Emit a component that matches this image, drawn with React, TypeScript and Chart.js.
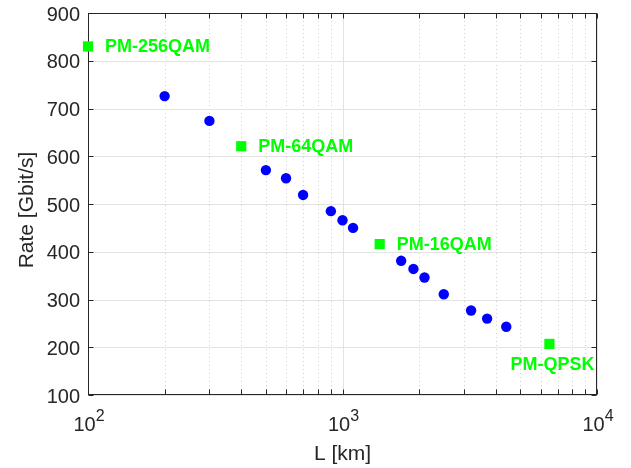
import React, { useEffect, useRef } from "react";
import { Chart, registerables } from "chart.js";

Chart.register(...registerables);

const blueL = [200, 300, 500, 600, 700, 900, 1000, 1100, 1700, 1900, 2100, 2500, 3200, 3700, 4400];
const blueRate = [726, 674, 571, 554, 519, 485, 466, 450, 381, 364, 346, 311, 277, 260, 243];
const greenL = [100, 400, 1400, 6500];
const greenRate = [830, 621, 416, 207];
const greenLabels = ["PM-256QAM", "PM-64QAM", "PM-16QAM", "PM-QPSK"];
const yTicks = [100, 200, 300, 400, 500, 600, 700, 800, 900];
const xMajor = [100, 1000, 10000];
const xMajorBase = ["10", "10", "10"];
const xMajorExp = ["2", "3", "4"];
const xMinor = [200, 300, 400, 500, 600, 700, 800, 900, 2000, 3000, 4000, 5000, 6000, 7000, 8000, 9000];
const xTitle = "L [km]";
const yTitle = "Rate [Gbit/s]";

const FONT = "'Liberation Sans', Arial, Helvetica, sans-serif";
const AXIS = "#262626";

const axesPlugin = {
  id: "matlabAxes",
  beforeDatasetsDraw(chart: any) {
    const { ctx, chartArea: a, scales } = chart;
    const xs = scales.x, ys = scales.y;
    ctx.save();
    // minor x grid dotted
    ctx.lineWidth = 1;
    ctx.strokeStyle = "rgba(38,38,38,0.22)";
    ctx.setLineDash([1, 3]);
    xMinor.forEach((v) => {
      const px = Math.round(xs.getPixelForValue(v)) + 0.5;
      ctx.beginPath();
      ctx.moveTo(px, a.top);
      ctx.lineTo(px, a.bottom);
      ctx.stroke();
    });
    ctx.setLineDash([]);
    // major grid
    ctx.strokeStyle = "#e3e3e3";
    xMajor.forEach((v) => {
      const px = Math.round(xs.getPixelForValue(v)) + 0.5;
      ctx.beginPath();
      ctx.moveTo(px, a.top);
      ctx.lineTo(px, a.bottom);
      ctx.stroke();
    });
    yTicks.forEach((v) => {
      const py = Math.round(ys.getPixelForValue(v)) + 0.5;
      ctx.beginPath();
      ctx.moveTo(a.left, py);
      ctx.lineTo(a.right, py);
      ctx.stroke();
    });
    // box
    ctx.strokeStyle = AXIS;
    ctx.lineWidth = 1;
    const L = Math.round(a.left) + 0.5, R = Math.round(a.right) - 0.5;
    const T = Math.round(a.top) + 0.5, B = Math.round(a.bottom) - 0.5;
    ctx.strokeRect(L, T, R - L, B - T);
    // ticks
    const tl = 5;
    ctx.beginPath();
    [...xMajor, ...xMinor].forEach((v) => {
      const px = Math.round(xs.getPixelForValue(v)) + 0.5;
      ctx.moveTo(px, B);
      ctx.lineTo(px, B - tl);
      ctx.moveTo(px, T);
      ctx.lineTo(px, T + tl);
    });
    yTicks.forEach((v) => {
      const py = Math.round(ys.getPixelForValue(v)) + 0.5;
      ctx.moveTo(L, py);
      ctx.lineTo(L + tl, py);
      ctx.moveTo(R, py);
      ctx.lineTo(R - tl, py);
    });
    ctx.stroke();
    // y tick labels
    ctx.fillStyle = AXIS;
    ctx.font = `20px ${FONT}`;
    ctx.textAlign = "right";
    ctx.textBaseline = "middle";
    yTicks.forEach((v) => {
      const py = ys.getPixelForValue(v);
      ctx.fillText(String(v), a.left - 8, py + 2);
    });
    // x tick labels with superscripts
    ctx.textAlign = "left";
    ctx.textBaseline = "alphabetic";
    xMajor.forEach((v, i) => {
      const px = xs.getPixelForValue(v);
      ctx.font = `20px ${FONT}`;
      const w1 = ctx.measureText(xMajorBase[i]).width;
      ctx.font = `16px ${FONT}`;
      const w2 = ctx.measureText(xMajorExp[i]).width;
      const start = px - (w1 + w2) / 2 + 1;
      ctx.font = `20px ${FONT}`;
      ctx.fillText(xMajorBase[i], start, 431);
      ctx.font = `16px ${FONT}`;
      ctx.fillText(xMajorExp[i], start + w1, 421);
    });
    // axis titles
    ctx.font = `21px ${FONT}`;
    ctx.textAlign = "center";
    ctx.textBaseline = "middle";
    ctx.fillText(xTitle, (a.left + a.right) / 2, 454);
    ctx.save();
    ctx.translate(27, (a.top + a.bottom) / 2 + 6);
    ctx.rotate(-Math.PI / 2);
    ctx.fillText(yTitle, 0, 0);
    ctx.restore();
    ctx.restore();
  },
  afterDatasetsDraw(chart: any) {
    const { ctx, scales } = chart;
    const xs = scales.x, ys = scales.y;
    ctx.save();
    ctx.fillStyle = "#00ff00";
    ctx.font = `bold 18px ${FONT}`;
    ctx.textBaseline = "middle";
    greenLabels.forEach((t, i) => {
      const px = xs.getPixelForValue(greenL[i]);
      const py = ys.getPixelForValue(greenRate[i]);
      if (i === greenLabels.length - 1) {
        ctx.textAlign = "center";
        ctx.fillText(t, px + 3, py + 21);
      } else {
        ctx.textAlign = "left";
        ctx.fillText(t, px + 17, py + 1);
      }
    });
    ctx.restore();
  },
};

export default function App() {
  const ref = useRef<HTMLCanvasElement | null>(null);
  useEffect(() => {
    document.body.style.margin = "0";
    const canvas = ref.current;
    if (!canvas) return;
    const chart = new Chart(canvas, {
      type: "scatter",
      data: {
        datasets: [
          {
            data: blueL.map((x, i) => ({ x, y: blueRate[i] })),
            backgroundColor: "#0000ff",
            borderColor: "#0000ff",
            borderWidth: 0,
            pointRadius: 5.2,
            pointStyle: "circle",
            clip: false as any,
          },
          {
            data: greenL.map((x, i) => ({ x, y: greenRate[i] })),
            backgroundColor: "#00ff00",
            borderColor: "#00ff00",
            borderWidth: 0,
            pointRadius: 7.2,
            pointStyle: "rect",
            clip: false as any,
          },
        ],
      },
      options: {
        animation: false,
        responsive: false,
        devicePixelRatio: 1,
        layout: { padding: { top: 13, right: 34, left: 0, bottom: 0 } },
        plugins: { legend: { display: false }, tooltip: { enabled: false } },
        events: [],
        scales: {
          x: {
            type: "logarithmic",
            min: 100,
            max: 10000,
            grid: { display: false, drawTicks: false },
            border: { display: false },
            ticks: { display: false },
            afterFit: (s: any) => {
              s.height = 73;
            },
          },
          y: {
            type: "linear",
            min: 100,
            max: 900,
            grid: { display: false, drawTicks: false },
            border: { display: false },
            ticks: { display: false },
            afterFit: (s: any) => {
              s.width = 88;
            },
          },
        },
      },
      plugins: [axesPlugin],
    });
    return () => chart.destroy();
  }, []);
  return <canvas ref={ref} width={631} height={468} style={{ display: "block" }} />;
}
